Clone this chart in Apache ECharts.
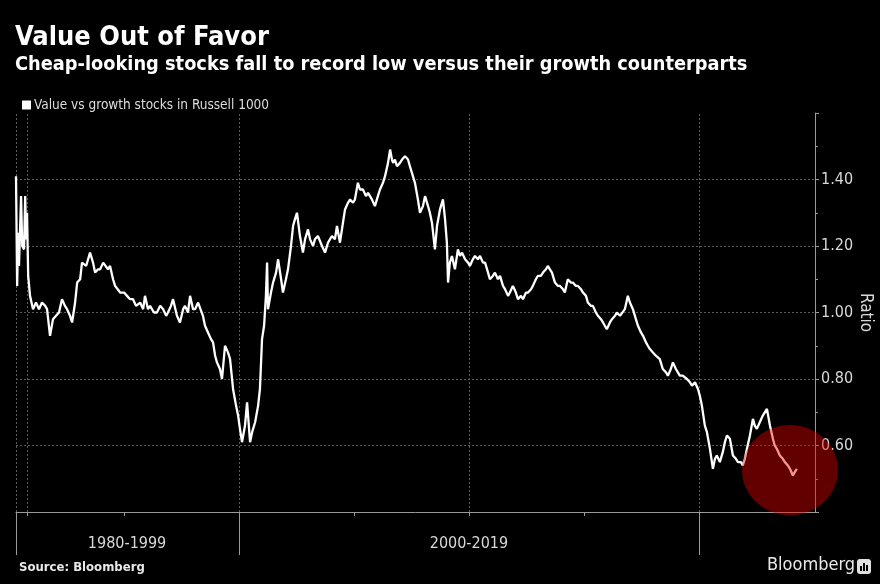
<!DOCTYPE html>
<html>
<head>
<meta charset="utf-8">
<style>
  html, body { margin: 0; padding: 0; background: #000; }
  #chart { width: 880px; height: 584px; }
</style>
<script src="https://cdn.jsdelivr.net/npm/echarts@6/dist/echarts.min.js"></script>
</head>
<body>
<div id="chart"></div>
<script>
// Value / growth ratio, Russell 1000 (decimal year, ratio)
const years = [
  1990.30, 1990.35, 1990.39, 1990.43, 1990.52, 1990.57, 1990.65, 1990.70, 1990.74, 1990.78,
  1990.83, 1990.91, 1991.04, 1991.17, 1991.30, 1991.43, 1991.57, 1991.65, 1991.78, 1991.91,
  1992.04, 1992.17, 1992.30, 1992.43, 1992.52, 1992.65, 1992.74, 1992.87, 1992.96, 1993.09,
  1993.17, 1993.35, 1993.52, 1993.65, 1993.74, 1993.87, 1993.96, 1994.09, 1994.17, 1994.30,
  1994.39, 1994.52, 1994.61, 1994.83, 1995.00, 1995.13, 1995.26, 1995.39, 1995.52, 1995.70,
  1995.83, 1995.91, 1996.04, 1996.13, 1996.30, 1996.43, 1996.57, 1996.70, 1996.83, 1996.91,
  1997.04, 1997.13, 1997.30, 1997.43, 1997.57, 1997.65, 1997.78, 1997.87, 1998.00, 1998.09,
  1998.22, 1998.30, 1998.43, 1998.52, 1998.65, 1998.78, 1998.87, 1998.96, 1999.04, 1999.17,
  1999.26, 1999.39, 1999.52, 1999.61, 1999.74, 1999.87, 1999.96, 2000.04, 2000.13, 2000.26,
  2000.35, 2000.48, 2000.57, 2000.70, 2000.83, 2000.91, 2001.00, 2001.09, 2001.17, 2001.22,
  2001.26, 2001.39, 2001.48, 2001.61, 2001.70, 2001.83, 2001.91, 2002.04, 2002.13, 2002.26,
  2002.35, 2002.43, 2002.52, 2002.65, 2002.78, 2002.87, 2003.00, 2003.09, 2003.22, 2003.30,
  2003.43, 2003.61, 2003.74, 2003.87, 2004.04, 2004.17, 2004.26, 2004.39, 2004.52, 2004.61,
  2004.74, 2004.83, 2004.96, 2005.04, 2005.17, 2005.26, 2005.39, 2005.52, 2005.61, 2005.78,
  2005.91, 2006.04, 2006.13, 2006.26, 2006.35, 2006.48, 2006.57, 2006.65, 2006.70, 2006.78,
  2006.87, 2007.00, 2007.09, 2007.22, 2007.35, 2007.43, 2007.52, 2007.65, 2007.78, 2007.87,
  2008.00, 2008.09, 2008.22, 2008.30, 2008.39, 2008.52, 2008.61, 2008.74, 2008.87, 2008.96,
  2009.04, 2009.09, 2009.17, 2009.26, 2009.39, 2009.52, 2009.61, 2009.70, 2009.83, 2009.96,
  2010.04, 2010.17, 2010.26, 2010.39, 2010.48, 2010.61, 2010.70, 2010.83, 2010.91, 2011.04,
  2011.13, 2011.26, 2011.35, 2011.48, 2011.57, 2011.70, 2011.78, 2011.91, 2012.04, 2012.13,
  2012.26, 2012.35, 2012.48, 2012.57, 2012.70, 2012.78, 2012.91, 2013.00, 2013.13, 2013.22,
  2013.35, 2013.43, 2013.52, 2013.61, 2013.74, 2013.87, 2013.96, 2014.09, 2014.17, 2014.30,
  2014.43, 2014.52, 2014.65, 2014.74, 2014.87, 2014.96, 2015.09, 2015.17, 2015.30, 2015.39,
  2015.52, 2015.61, 2015.74, 2015.83, 2015.91, 2016.00, 2016.13, 2016.22, 2016.35, 2016.43,
  2016.57, 2016.65, 2016.78, 2016.91, 2017.00, 2017.13, 2017.26, 2017.35, 2017.48, 2017.57,
  2017.70, 2017.78, 2017.87, 2018.00, 2018.13, 2018.30, 2018.43, 2018.57, 2018.65, 2018.78,
  2018.87, 2019.00, 2019.17, 2019.30, 2019.48, 2019.61, 2019.70, 2019.83, 2019.96, 2020.04,
  2020.13, 2020.26, 2020.35, 2020.48, 2020.61, 2020.70, 2020.78, 2020.91, 2021.04, 2021.13,
  2021.22, 2021.35, 2021.48, 2021.61, 2021.70, 2021.83, 2021.91, 2022.00, 2022.09, 2022.22,
  2022.35, 2022.43, 2022.52, 2022.65, 2022.78, 2022.96, 2023.09, 2023.22, 2023.30, 2023.39,
  2023.52, 2023.65, 2023.74, 2023.87, 2023.96, 2024.09, 2024.17, 2024.26
];
const ratio = [
  1.41, 1.08, 1.24, 1.14, 1.35, 1.20, 1.19, 1.35, 1.22, 1.30,
  1.11, 1.05, 1.01, 1.03, 1.01, 1.03, 1.02, 1.01, 0.93, 0.98,
  0.99, 1.00, 1.04, 1.02, 1.01, 0.99, 0.97, 1.03, 1.09, 1.10,
  1.15, 1.14, 1.18, 1.15, 1.12, 1.13, 1.13, 1.15, 1.15, 1.13,
  1.14, 1.10, 1.08, 1.06, 1.06, 1.05, 1.04, 1.04, 1.02, 1.03,
  1.01, 1.05, 1.01, 1.02, 1.00, 1.00, 1.02, 1.01, 0.99, 1.00,
  1.02, 1.04, 0.99, 0.97, 1.01, 1.02, 1.00, 1.05, 1.01, 1.01,
  1.03, 1.03, 0.99, 0.96, 0.94, 0.92, 0.91, 0.87, 0.85, 0.83,
  0.80, 0.90, 0.88, 0.86, 0.77, 0.72, 0.69, 0.65, 0.61, 0.66,
  0.73, 0.61, 0.64, 0.67, 0.72, 0.77, 0.92, 0.96, 1.05, 1.15,
  1.01, 1.06, 1.09, 1.12, 1.16, 1.10, 1.06, 1.10, 1.13, 1.20,
  1.26, 1.28, 1.30, 1.23, 1.18, 1.22, 1.25, 1.22, 1.20, 1.22,
  1.23, 1.20, 1.18, 1.21, 1.23, 1.22, 1.26, 1.21, 1.27, 1.31,
  1.33, 1.34, 1.33, 1.34, 1.39, 1.37, 1.37, 1.35, 1.36, 1.34,
  1.32, 1.35, 1.37, 1.39, 1.41, 1.45, 1.49, 1.46, 1.45, 1.46,
  1.44, 1.45, 1.46, 1.47, 1.46, 1.44, 1.42, 1.39, 1.34, 1.30,
  1.32, 1.35, 1.32, 1.30, 1.27, 1.19, 1.26, 1.31, 1.34, 1.28,
  1.21, 1.09, 1.15, 1.17, 1.13, 1.19, 1.17, 1.18, 1.16, 1.15,
  1.14, 1.16, 1.17, 1.16, 1.17, 1.15, 1.15, 1.12, 1.10, 1.11,
  1.12, 1.10, 1.11, 1.08, 1.07, 1.05, 1.06, 1.08, 1.06, 1.04,
  1.05, 1.04, 1.06, 1.06, 1.07, 1.08, 1.10, 1.11, 1.11, 1.12,
  1.13, 1.14, 1.13, 1.12, 1.09, 1.08, 1.08, 1.07, 1.06, 1.10,
  1.09, 1.09, 1.08, 1.08, 1.07, 1.06, 1.05, 1.03, 1.02, 1.02,
  1.00, 0.99, 0.98, 0.97, 0.96, 0.95, 0.97, 0.98, 0.99, 1.00,
  0.99, 0.99, 1.01, 1.05, 1.03, 1.01, 0.98, 0.96, 0.94, 0.93,
  0.91, 0.90, 0.89, 0.88, 0.87, 0.86, 0.83, 0.82, 0.81, 0.83,
  0.85, 0.83, 0.81, 0.81, 0.80, 0.79, 0.78, 0.79, 0.77, 0.75,
  0.72, 0.66, 0.64, 0.59, 0.53, 0.56, 0.57, 0.55, 0.58, 0.61,
  0.63, 0.62, 0.57, 0.56, 0.55, 0.55, 0.54, 0.56, 0.59, 0.63,
  0.68, 0.66, 0.65, 0.67, 0.69, 0.71, 0.66, 0.62, 0.60, 0.59,
  0.57, 0.56, 0.55, 0.54, 0.53, 0.51, 0.52, 0.53
];

// Highlight marker around the latest readings
const highlight = [[2023.96, 0.526]];

// Axis ticks and labels
const yTicks = [0.6, 0.8, 1.0, 1.2, 1.4];
const xMinorTicks = [1990.78, 1995, 2005, 2010, 2015];
const xPeriodBreaks = [1990.3, 2000, 2020];
const xGridLines = [1990.3, 1990.78, 2000, 2010, 2020];
const periodLabels = [
  { at: 1995.13, text: '1980-1999' },
  { at: 2010, text: '2000-2019' }
];

const seriesName = 'Value vs growth stocks in Russell 1000';
const X_MIN = 1990.3, X_MAX = 2025.05;
const FONT = "'DejaVu Sans Condensed', 'DejaVu Sans', sans-serif";
const AXIS_COLOR = '#9a9a9a';
const GRID_COLOR = '#5a5a5a';

const chart = echarts.init(document.getElementById('chart'));

const splitColors = [];
for (let v = 0.4; v <= 1.6001; v += 0.2) {
  splitColors.push(yTicks.some(t => Math.abs(t - v) < 1e-6) ? GRID_COLOR : 'rgba(0,0,0,0)');
}

chart.setOption({
  backgroundColor: '#000',
  animation: false,
  textStyle: { fontFamily: FONT },
  title: [
    {
      text: 'Value Out of Favor',
      left: 10, top: 19,
      textStyle: { color: '#fff', fontSize: 27, fontWeight: 'bold', fontFamily: FONT }
    },
    {
      text: 'Cheap-looking stocks fall to record low versus their growth counterparts',
      left: 10, top: 50,
      textStyle: { color: '#fff', fontSize: 19.8, fontWeight: 'bold', fontFamily: FONT }
    }
  ],
  legend: {
    data: [seriesName],
    left: 17, top: 93,
    icon: 'rect',
    itemWidth: 9, itemHeight: 9, itemGap: 4,
    textStyle: { color: '#ddd', fontSize: 13.5, padding: [0, 0, 0, -2] },
    selectedMode: false
  },
  grid: { left: 16, right: 65, top: 113, bottom: 72, outerBoundsMode: 'none', containLabel: false },
  xAxis: [
    {
      type: 'value', min: X_MIN, max: X_MAX,
      axisLine: { show: true, lineStyle: { color: AXIS_COLOR, width: 1 } },
      axisTick: { show: true, customValues: xMinorTicks, length: 4, lineStyle: { color: AXIS_COLOR } },
      axisLabel: {
        customValues: periodLabels.map(p => p.at),
        formatter: v => {
          const p = periodLabels.find(q => Math.abs(q.at - v) < 1e-6);
          return p ? p.text : '';
        },
        color: '#d8d8d8', fontSize: 16, margin: 24, fontFamily: FONT
      },
      splitLine: { show: false }
    },
    {
      type: 'value', min: X_MIN, max: X_MAX, position: 'bottom',
      axisLine: { show: false },
      axisTick: { show: true, customValues: xPeriodBreaks, length: 43, lineStyle: { color: AXIS_COLOR } },
      axisLabel: { show: false },
      splitLine: { show: false }
    }
  ],
  yAxis: {
    type: 'value', position: 'right',
    min: 0.4, max: 1.6, interval: 0.2,
    name: 'Ratio', nameLocation: 'middle', nameRotate: -90, nameGap: 42,
    nameMoveOverlap: false,
    nameTextStyle: { color: '#d8d8d8', fontSize: 17, fontFamily: FONT },
    axisLine: { show: true, lineStyle: { color: AXIS_COLOR } },
    axisTick: { show: true, length: 4, lineStyle: { color: AXIS_COLOR } },
    minorTick: { show: true, splitNumber: 2, length: 3, lineStyle: { color: AXIS_COLOR } },
    axisLabel: {
      color: '#d8d8d8', fontSize: 16, margin: 6, fontFamily: FONT,
      formatter: v => yTicks.some(t => Math.abs(t - v) < 1e-6) ? v.toFixed(2) : ''
    },
    splitLine: { show: true, lineStyle: { color: splitColors, type: [2, 2], width: 1 } }
  },
  series: [
    {
      name: seriesName,
      type: 'line',
      data: years.map((y, i) => [y, ratio[i]]),
      showSymbol: false,
      symbol: 'none',
      lineStyle: { color: '#fff', width: 2.3 },
      itemStyle: { color: '#fff' },
      z: 3,
      markLine: {
        silent: true,
        symbol: ['none', 'none'],
        label: { show: false },
        lineStyle: { color: GRID_COLOR, type: [2, 2], width: 1 },
        data: xGridLines.map(x => ({ xAxis: x })),
        z: 1
      }
    },
    {
      name: 'highlight',
      type: 'scatter',
      data: highlight,
      symbol: 'circle',
      symbolSize: [96, 90],
      itemStyle: { color: 'rgba(235, 0, 0, 0.52)' },
      clip: false,
      silent: true,
      z: 5
    }
  ],
  graphic: [
    {
      type: 'text', left: 19, top: 561,
      style: { text: 'Source: Bloomberg', fill: '#e8e8e8', font: "bold 13px " + FONT }
    },
    {
      type: 'text', left: 767, top: 556,
      style: { text: 'Bloomberg', fill: '#e8e8e8', font: "18px " + FONT }
    },
    {
      type: 'group', left: 857, top: 559,
      children: [
        { type: 'rect', shape: { x: 0, y: 0, width: 14, height: 15, r: 3 }, style: { fill: '#e0e0e0' } },
        { type: 'rect', shape: { x: 3, y: 7, width: 2, height: 5 }, style: { fill: '#000' } },
        { type: 'rect', shape: { x: 6, y: 4, width: 2, height: 8 }, style: { fill: '#000' } },
        { type: 'rect', shape: { x: 9, y: 6, width: 2, height: 6 }, style: { fill: '#000' } }
      ]
    }
  ]
});
</script>
</body>
</html>
